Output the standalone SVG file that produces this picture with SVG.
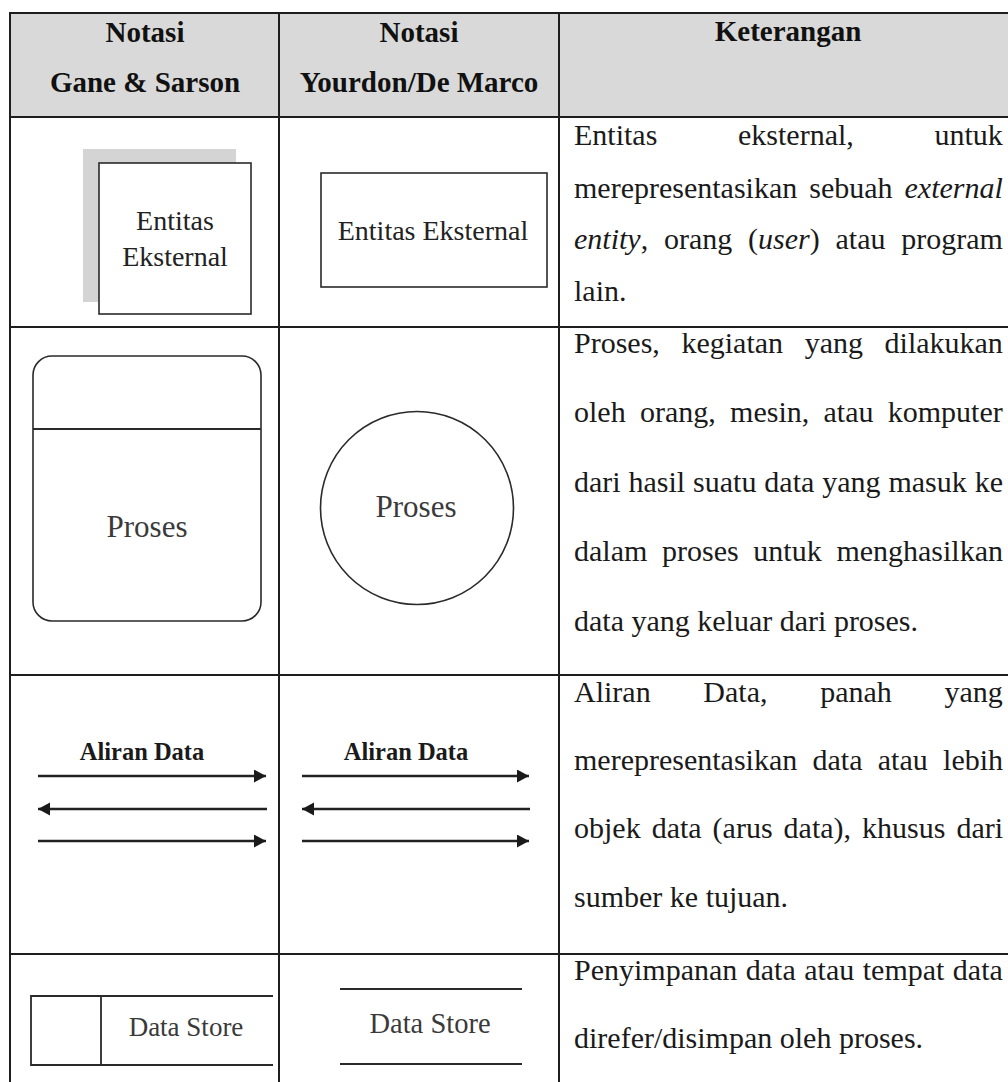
<svg xmlns="http://www.w3.org/2000/svg" width="1008" height="1082" viewBox="0 0 1008 1082">
  <style>
    .grid { stroke: #1e1e1e; stroke-width: 2; fill: none; }
    .shape { stroke: #2a2a2a; stroke-width: 1.6; fill: #ffffff; }
    .rule { stroke: #2a2a2a; stroke-width: 1.8; fill: none; }
    .head { font-family: "Liberation Serif", "Times New Roman", serif; font-weight: bold; font-size: 29px; fill: #111; text-anchor: middle; }
    .body { font-family: "Liberation Serif", "Times New Roman", serif; font-size: 30px; fill: #1a1a1a; }
    .label { font-family: "Liberation Serif", "Times New Roman", serif; font-size: 28px; fill: #222; text-anchor: middle; }
    .light { font-family: "Liberation Serif", "Times New Roman", serif; fill: #3a3a3a; text-anchor: middle; }
    .flowlabel { font-family: "Liberation Serif", "Times New Roman", serif; font-weight: bold; font-size: 24.5px; fill: #1a1a1a; text-anchor: middle; }
    .flow { stroke: #222; stroke-width: 2.4; fill: none; marker-end: url(#head); }
    .it { font-style: italic; }
  </style>
  <defs>
    <marker id="head" markerUnits="userSpaceOnUse" markerWidth="14" markerHeight="14" refX="12" refY="6.5" orient="auto">
      <path d="M0,0 L12,6.5 L0,13 z" fill="#1a1a1a"/>
    </marker>
  </defs>

  <rect width="1008" height="1082" fill="#ffffff"/>

  <!-- table frame -->
  <g id="table">
    <rect x="10" y="13" width="1010" height="104" fill="#d9d9d9"/>
    <line class="grid" x1="10" y1="13" x2="1008" y2="13"/>
    <line class="grid" x1="10" y1="117" x2="1008" y2="117"/>
    <line class="grid" x1="10" y1="327" x2="1008" y2="327"/>
    <line class="grid" x1="10" y1="675" x2="1008" y2="675"/>
    <line class="grid" x1="10" y1="954" x2="1008" y2="954"/>
    <line class="grid" x1="10" y1="12" x2="10" y2="1082"/>
    <line class="grid" x1="279" y1="12" x2="279" y2="1082"/>
    <line class="grid" x1="559" y1="12" x2="559" y2="1082"/>
  </g>

  <!-- column headings -->
  <g id="headings">
    <text class="head" x="145" y="42">Notasi</text>
    <text class="head" x="145" y="92">Gane &amp; Sarson</text>
    <text class="head" x="419" y="42">Notasi</text>
    <text class="head" x="419" y="92">Yourdon/De Marco</text>
    <text class="head" x="788" y="41">Keterangan</text>
  </g>

  <!-- external entity, Gane & Sarson -->
  <g id="entity-gs">
    <rect x="83" y="149" width="153" height="153" fill="#d4d4d4"/>
    <rect class="shape" x="99" y="163" width="152" height="151"/>
    <text class="label" x="175" y="230">Entitas</text>
    <text class="label" x="175" y="266">Eksternal</text>
  </g>

  <!-- external entity, Yourdon/De Marco -->
  <g id="entity-ydm">
    <rect class="shape" x="321" y="173" width="226" height="114"/>
    <text class="label" x="433" y="240">Entitas Eksternal</text>
  </g>

  <!-- process, Gane & Sarson -->
  <g id="process-gs">
    <rect class="shape" x="33" y="356" width="228" height="265" rx="19" ry="19"/>
    <line class="rule" x1="33" y1="429" x2="261" y2="429"/>
    <text class="light" x="147" y="537" font-size="31">Proses</text>
  </g>

  <!-- process, Yourdon/De Marco -->
  <g id="process-ydm">
    <circle class="shape" cx="417" cy="508" r="96.5"/>
    <text class="light" x="416" y="517" font-size="31">Proses</text>
  </g>

  <!-- data flow labels -->
  <g id="flow-gs">
    <text class="flowlabel" x="142" y="760">Aliran Data</text>
  </g>
  <g id="flow-ydm">
    <text class="flowlabel" x="406" y="760">Aliran Data</text>
  </g>

  <!-- data flow arrows -->
  <g id="connectors">
    <line class="flow" x1="38" y1="776" x2="266" y2="776"/>
    <line class="flow" x1="267" y1="809" x2="38" y2="809"/>
    <line class="flow" x1="38" y1="841" x2="266" y2="841"/>
    <line class="flow" x1="302" y1="776" x2="529" y2="776"/>
    <line class="flow" x1="530" y1="809" x2="302" y2="809"/>
    <line class="flow" x1="302" y1="841" x2="529" y2="841"/>
  </g>

  <!-- data store, Gane & Sarson -->
  <g id="store-gs">
    <path class="rule" d="M273,996 H31 V1065 H273 M101,996 V1065"/>
    <text class="light" x="186" y="1036" font-size="27">Data Store</text>
  </g>

  <!-- data store, Yourdon/De Marco -->
  <g id="store-ydm">
    <line class="rule" x1="340" y1="989" x2="522" y2="989"/>
    <line class="rule" x1="340" y1="1064" x2="522" y2="1064"/>
    <text class="light" x="430" y="1033" font-size="28.5">Data Store</text>
  </g>

  <!-- descriptions (justified lines) -->
  <g id="descriptions" class="body">
    <text x="574" y="145" word-spacing="73.2">Entitas eksternal, untuk</text>
    <text x="574" y="198" word-spacing="4.5">merepresentasikan sebuah <tspan class="it">external</tspan></text>
    <text x="574" y="249" word-spacing="8.3"><tspan class="it">entity</tspan>, orang (<tspan class="it">user</tspan>) atau program</text>
    <text x="574" y="301">lain.</text>

    <text x="574" y="353" word-spacing="14.1">Proses, kegiatan yang dilakukan</text>
    <text x="574" y="422" word-spacing="6.8">oleh orang, mesin, atau komputer</text>
    <text x="574" y="492" word-spacing="0.4">dari hasil suatu data yang masuk ke</text>
    <text x="574" y="561" word-spacing="7.2">dalam proses untuk menghasilkan</text>
    <text x="574" y="631">data yang keluar dari proses.</text>

    <text x="574" y="702" word-spacing="45.2">Aliran Data, panah yang</text>
    <text x="574" y="770" word-spacing="7.8">merepresentasikan data atau lebih</text>
    <text x="574" y="838" word-spacing="3.5">objek data (arus data), khusus dari</text>
    <text x="574" y="907">sumber ke tujuan.</text>

    <text x="574" y="980" word-spacing="1.0">Penyimpanan data atau tempat data</text>
    <text x="574" y="1048">direfer/disimpan oleh proses.</text>
  </g>
</svg>
